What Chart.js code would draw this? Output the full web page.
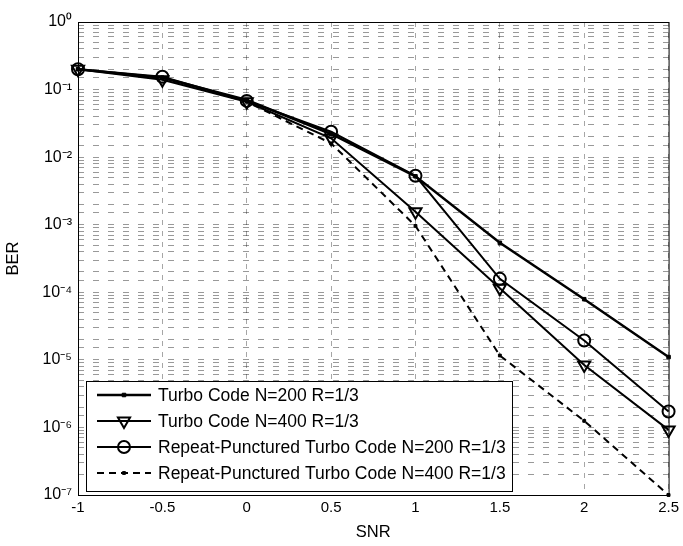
<!DOCTYPE html>
<html>
<head>
<meta charset="utf-8">
<script src="https://cdn.jsdelivr.net/npm/chart.js@4.4.1/dist/chart.umd.min.js"></script>
<style>
  html, body { margin: 0; padding: 0; background: #fff; }
  #wrap { width: 683px; height: 546px; position: relative; }
</style>
</head>
<body>
<div id="wrap"><canvas id="berChart"></canvas></div>
<script>
const snr = [-1, -0.5, 0, 0.5, 1, 1.5, 2, 2.5];

const turbo200 = [0.2, 0.15, 0.07, 0.022, 0.0052, 5.4e-4, 7.9e-5, 1.1e-5];
const turbo400 = [0.2, 0.14, 0.066, 0.019, 1.56e-3, 1.15e-4, 8.4e-6, 9.2e-7];
const rpTurbo200 = [0.2, 0.155, 0.068, 0.0238, 0.0053, 1.58e-4, 1.93e-5, 1.72e-6];
const rpTurbo400 = [0.2, 0.15, 0.066, 0.016, 9.6e-4, 1.16e-5, 1.25e-6, 1e-7];

const seriesLabels = [
    'Turbo Code N=200 R=1/3',
    'Turbo Code N=400 R=1/3',
    'Repeat-Punctured Turbo Code N=200 R=1/3',
    'Repeat-Punctured Turbo Code N=400 R=1/3'
];

const supers = { '-': '\u207B', '0': '\u2070', '1': '\u00B9', '2': '\u00B2', '3': '\u00B3',
    '4': '\u2074', '5': '\u2075', '6': '\u2076', '7': '\u2077', '8': '\u2078', '9': '\u2079' };

function toPoints(values) {
    return snr.map((x, i) => ({ x: x, y: values[i] }));
}

function powLabel(v) {
    const e = Math.round(Math.log10(v));
    if (Math.abs(v - Math.pow(10, e)) / v > 1e-6) return '';
    return '10' + String(e).split('').map(c => supers[c]).join('');
}

const FONT = '"Liberation Sans", Arial, sans-serif';

// MATLAB style box + legend inside the plot
const boxLegend = {
    id: 'boxLegend',
    afterDraw(chart) {
        const { ctx, chartArea: a } = chart;
        ctx.save();
        ctx.strokeStyle = '#000';
        ctx.lineWidth = 1;
        ctx.strokeRect(a.left + 0.5, a.top + 0.5, a.right - a.left, a.bottom - a.top);

        const bx = 86, by = 381, bw = 426, bh = 110;
        ctx.fillStyle = '#fff';
        ctx.fillRect(bx, by, bw, bh);
        ctx.strokeRect(bx + 0.5, by + 0.5, bw, bh);

        const rowY = [395, 421, 447, 473];
        chart.data.datasets.forEach((ds, i) => {
            const y = rowY[i];
            ctx.strokeStyle = '#000';
            ctx.lineWidth = ds.borderWidth;
            ctx.setLineDash(ds.borderDash || []);
            ctx.beginPath();
            ctx.moveTo(97, y);
            ctx.lineTo(151, y);
            ctx.stroke();
            ctx.setLineDash([]);
            ctx.fillStyle = ds.pointBackgroundColor;
            ctx.lineWidth = ds.pointBorderWidth;
            Chart.helpers.drawPoint(ctx, {
                pointStyle: ds.pointStyle,
                radius: ds.pointRadius,
                rotation: ds.pointRotation || 0,
                borderWidth: ds.pointBorderWidth
            }, 124, y);
            ctx.fillStyle = '#000';
            ctx.font = '17.5px ' + FONT;
            ctx.textBaseline = 'middle';
            ctx.fillText(ds.label, 158, y + 1);
        });
        ctx.restore();
    }
};

const baseLine = {
    borderColor: '#000',
    pointBorderColor: '#000',
    tension: 0,
    fill: false,
    clip: 10
};

new Chart(document.getElementById('berChart'), {
    type: 'line',
    data: {
        datasets: [
            Object.assign({}, baseLine, {
                label: seriesLabels[0], data: toPoints(turbo200),
                borderWidth: 2.5, pointStyle: 'rect', pointRadius: 2.5,
                pointBackgroundColor: '#000', pointBorderWidth: 1
            }),
            Object.assign({}, baseLine, {
                label: seriesLabels[1], data: toPoints(turbo400),
                borderWidth: 2, pointStyle: 'triangle', pointRotation: 180, pointRadius: 7,
                pointBackgroundColor: 'rgba(0,0,0,0)', pointBorderWidth: 2
            }),
            Object.assign({}, baseLine, {
                label: seriesLabels[2], data: toPoints(rpTurbo200),
                borderWidth: 2, pointStyle: 'circle', pointRadius: 6,
                pointBackgroundColor: 'rgba(0,0,0,0)', pointBorderWidth: 2
            }),
            Object.assign({}, baseLine, {
                label: seriesLabels[3], data: toPoints(rpTurbo400),
                borderWidth: 2, borderDash: [7, 5], pointStyle: 'rect', pointRadius: 2,
                pointBackgroundColor: '#000', pointBorderWidth: 1
            })
        ]
    },
    options: {
        responsive: true,
        maintainAspectRatio: false,
        animation: false,
        layout: { padding: { top: 22, right: 14, left: 0, bottom: 0 } },
        plugins: {
            legend: { display: false },
            tooltip: { enabled: false }
        },
        scales: {
            x: {
                type: 'linear',
                min: -1,
                max: 2.5,
                afterFit(scale) { scale.height = 51; },
                ticks: {
                    stepSize: 0.5,
                    color: '#000',
                    padding: 4,
                    font: { family: FONT, size: 15 },
                    callback: v => String(v)
                },
                grid: { color: 'rgba(0,0,0,0.35)', lineWidth: 1, tickLength: 0 },
                border: { display: false, dash: [5, 6] },
                title: {
                    display: true, text: 'SNR', color: '#000',
                    font: { family: FONT, size: 16.5 }, padding: { top: 1 }
                }
            },
            y: {
                type: 'logarithmic',
                min: 1e-7,
                max: 1,
                afterFit(scale) { scale.width = 78; },
                ticks: {
                    color: '#000',
                    autoSkip: false,
                    padding: 6,
                    font: { family: FONT, size: 16 },
                    callback: v => powLabel(v)
                },
                grid: { color: 'rgba(0,0,0,0.4)', lineWidth: 1, tickLength: 0 },
                border: { display: false, dash: [6, 9] },
                title: {
                    display: true, text: 'BER', color: '#000',
                    font: { family: FONT, size: 16.5 }, padding: { bottom: 5 }
                }
            }
        }
    },
    plugins: [boxLegend]
});
</script>
</body>
</html>
